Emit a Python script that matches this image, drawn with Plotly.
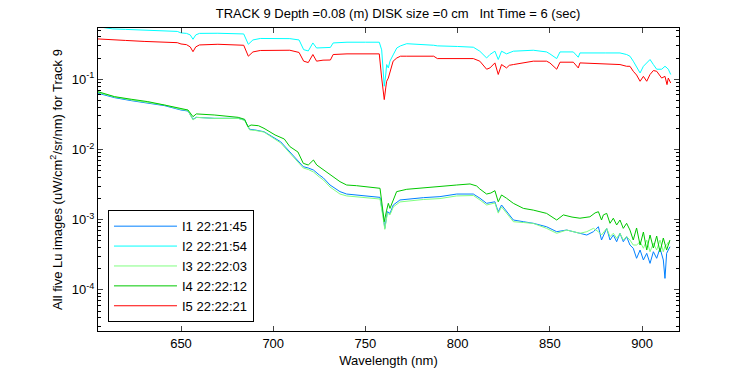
import plotly.graph_objects as go

# ---------------- data ----------------
wl_top = [605, 610, 613, 620, 630, 640, 648, 650, 653, 655, 656.5, 658, 660, 670, 684, 686.5, 689, 693,
          700, 705, 709, 714, 716.5, 719, 721.5, 723.5, 727, 731, 732.5, 740, 750, 757.5, 758.8, 759.6,
          760.2, 761, 761.5, 762.4, 763.3, 765, 767, 769, 772.4, 787, 789, 800, 808.5, 812, 815.7, 817.5,
          820.2, 822, 823.8, 826.5, 828, 830.2, 841, 848.2, 850, 853.7, 855.5, 862.7, 865.4, 866.3, 880,
          888, 891.6, 893.4, 895.2, 897, 898.9, 900.7, 902.5, 904.3, 906.1, 907.9, 910.6, 912.4, 913.5,
          914.2, 915.5]

i2_vals = [0.56, 0.538, 0.521, 0.513, 0.505, 0.488, 0.480, 0.457, 0.450, 0.428, 0.371, 0.428, 0.450, 0.452,
           0.442, 0.315, 0.363, 0.381, 0.381, 0.381, 0.379, 0.363, 0.264, 0.253, 0.329, 0.279, 0.279, 0.284,
           0.329, 0.337, 0.337, 0.337, 0.262, 0.136, 0.0796, 0.115, 0.162, 0.145, 0.181, 0.222, 0.279, 0.299,
           0.321, 0.305, 0.299, 0.293, 0.286, 0.251, 0.201, 0.225, 0.251, 0.191, 0.251, 0.230, 0.237, 0.251,
           0.259, 0.245, 0.230, 0.197, 0.245, 0.245, 0.206, 0.237, 0.237, 0.237, 0.225, 0.213, 0.181, 0.153,
           0.123, 0.153, 0.171, 0.191, 0.162, 0.139, 0.139, 0.153, 0.145, 0.139, 0.117]

i5_vals = [0.375, 0.371, 0.369, 0.357, 0.346, 0.334, 0.332, 0.318, 0.311, 0.289, 0.247, 0.289, 0.308, 0.315,
           0.305, 0.213, 0.245, 0.257, 0.257, 0.257, 0.259, 0.241, 0.181, 0.173, 0.225, 0.181, 0.187, 0.188,
           0.225, 0.230, 0.230, 0.230, 0.104, 0.0705, 0.0513, 0.0752, 0.0936, 0.104, 0.123, 0.181, 0.201,
           0.213, 0.213, 0.213, 0.197, 0.197, 0.197, 0.181, 0.139, 0.145, 0.171, 0.117, 0.162, 0.145, 0.158,
           0.162, 0.181, 0.181, 0.171, 0.139, 0.175, 0.175, 0.145, 0.171, 0.165, 0.162, 0.153, 0.153, 0.130,
           0.115, 0.0936, 0.110, 0.0936, 0.117, 0.133, 0.130, 0.104, 0.110, 0.0839, 0.104, 0.0885]

wl_low = [605, 614, 623, 632, 641, 650, 653.8, 656.5, 658.3, 668, 681, 684.5, 687.2, 690, 695, 704, 709,
          713, 716.3, 719, 721.8, 725, 727.2, 730.8, 736.2, 739.8, 745.2, 757.9, 759.7, 760.5, 761.9,
          763.3, 765.1, 768.7, 781.4, 790.4, 799.5, 808.5, 812.1, 815.7, 820.2, 822, 823.8, 826.5, 830.2,
          835.6, 841, 848.2, 853.7, 859.1, 866.3, 870, 873.6, 876.3, 878, 880.8, 882.6, 884.4, 886.2, 888,
          889.8, 891.6, 893.4, 895.2, 897, 898.9, 900.7, 902.5, 904.3, 906.1, 907.9, 909.7, 911.5, 912.4,
          913.3, 914.2, 915.1]

i1_vals = [0.0632, 0.0547, 0.0496, 0.0455, 0.0421, 0.0365, 0.0353, 0.0269, 0.0287, 0.0278, 0.0278, 0.0263,
           0.0194, 0.0190, 0.0179, 0.0129, 0.00931, 0.00708, 0.00569, 0.00545, 0.00510, 0.00433, 0.00393,
           0.00312, 0.00251, 0.00232, 0.00225, 0.00208, 0.00110, 0.000753, 0.00130, 0.00123, 0.00162,
           0.00191, 0.00206, 0.00213, 0.00232, 0.00232, 0.00202, 0.00171, 0.00180, 0.00130, 0.00162,
           0.00130, 0.000990, 0.000937, 0.000889, 0.000794, 0.000675, 0.000713, 0.000640, 0.000605,
           0.000675, 0.000794, 0.000514, 0.000753, 0.000514, 0.000605, 0.000486, 0.000640, 0.000486,
           0.000573, 0.000436, 0.000392, 0.000282, 0.000370, 0.000267, 0.000332, 0.000239, 0.000350,
           0.000282, 0.000392, 0.000267, 0.000146, 0.000332, 0.000370, 0.000412]

i3_vals = [0.0649, 0.0560, 0.0507, 0.0468, 0.0430, 0.0372, 0.0360, 0.0263, 0.0286, 0.0277, 0.0277, 0.0259,
           0.0190, 0.0187, 0.0177, 0.0124, 0.00891, 0.00685, 0.00545, 0.00519, 0.00478, 0.00406, 0.00368,
           0.00292, 0.00232, 0.00218, 0.00210, 0.00197, 0.00102, 0.000729, 0.00124, 0.00117, 0.00152,
           0.00179, 0.00194, 0.00200, 0.00218, 0.00221, 0.00191, 0.00162, 0.00173, 0.00124, 0.00152,
           0.00124, 0.000937, 0.000912, 0.000885, 0.000753, 0.000640, 0.000713, 0.000640, 0.000675,
           0.000753, 0.000675, 0.000605, 0.000753, 0.000573, 0.000640, 0.000543, 0.000640, 0.000514,
           0.000573, 0.000514, 0.000436, 0.000436, 0.000486, 0.000392, 0.000514, 0.000350, 0.000461,
           0.000370, 0.000514, 0.000350, 0.000420, 0.000436, 0.000480, 0.000461]

wl_i4 = [605, 614, 623, 632, 641, 650, 653.8, 656.5, 658.3, 668, 674, 681, 684.5, 686.3, 688, 692, 695, 701,
         706, 709, 713.4, 716.3, 719, 721.8, 723.6, 727.2, 732.6, 736.2, 739.8, 745.2, 757.9, 759.3, 760.2,
         761.5, 762.4, 763.3, 765.1, 766.9, 772.4, 781.4, 790.4, 799.5, 806.7, 810.3, 812, 815.7, 818,
         820.2, 822, 823.8, 826.5, 830.2, 835.6, 841, 848.2, 853.7, 857.3, 862, 866.3, 871.7, 874.5, 876.3,
         878, 879, 880.8, 882.6, 884.4, 886.2, 888, 889.8, 891.6, 893.4, 895.2, 897, 898.9, 900.7, 902.5,
         904.3, 906.1, 907.9, 909.7, 911.5, 913.3, 915.1]

i4_vals = [0.0665, 0.0565, 0.0519, 0.0480, 0.0430, 0.0378, 0.0365, 0.0293, 0.0321, 0.0310, 0.0300, 0.0287,
           0.0269, 0.0211, 0.0223, 0.0218, 0.0200, 0.0161, 0.0141, 0.0110, 0.00920, 0.00635, 0.00601,
           0.00708, 0.00601, 0.00510, 0.00410, 0.00348, 0.00312, 0.00305, 0.00280, 0.00153, 0.000937,
           0.00137, 0.00171, 0.00145, 0.00191, 0.00251, 0.00271, 0.00286, 0.00302, 0.00312, 0.00323,
           0.00302, 0.00274, 0.00232, 0.00240, 0.00259, 0.00180, 0.00225, 0.00202, 0.00171, 0.00145,
           0.00137, 0.00123, 0.000990, 0.00117, 0.00109, 0.00105, 0.00110, 0.00125, 0.00130, 0.000990,
           0.00117, 0.00123, 0.000889, 0.00105, 0.000841, 0.000990, 0.000753, 0.000889, 0.000713, 0.000514,
           0.000762, 0.000436, 0.000668, 0.000370, 0.000605, 0.000395, 0.000586, 0.000347, 0.000548,
           0.000370, 0.000514]

series_names = ["I1 22:21:45", "I2 22:21:54", "I3 22:22:03", "I4 22:22:12", "I5 22:22:21"]
series_colors = ["#0080FF", "#00FFFF", "#80FF80", "#00C800", "#FF0000"]

y_tick_vals = [1e-4, 1e-3, 1e-2, 1e-1]
y_tick_text = ["10<sup>-4</sup>", "10<sup>-3</sup>", "10<sup>-2</sup>", "10<sup>-1</sup>"]
x_tick_vals = [650, 700, 750, 800, 850, 900]

# ---------------- figure ----------------
FONT = "Liberation Sans, Arial, sans-serif"
fig = go.Figure()
series = [(wl_low, i1_vals), (wl_top, i2_vals), (wl_low, i3_vals), (wl_i4, i4_vals), (wl_top, i5_vals)]
for (xs, ys), name, col in zip(series, series_names, series_colors):
    fig.add_trace(go.Scatter(x=xs, y=ys, mode="lines", name=name,
                             line=dict(color=col, width=1)))

minor_vals = [m * 10.0 ** e for e in range(-5, 0) for m in range(2, 10)]

fig.update_layout(
    width=750, height=375,
    margin=dict(l=98, r=71, t=28, b=44, autoexpand=False),
    paper_bgcolor="white", plot_bgcolor="white",
    font=dict(family=FONT, size=13, color="black"),
    showlegend=True,
    title=dict(text="TRACK 9 Depth =0.08 (m) DISK size =0 cm\u00a0\u00a0\u00a0Int Time = 6 (sec)",
               x=398 / 750, xanchor="center", xref="container",
               y=1 - 13 / 375, yanchor="middle", yref="container",
               font=dict(family=FONT, size=13, color="black")),
    legend=dict(x=0.0172, y=0.029, xanchor="left", yanchor="bottom",
                bgcolor="white", bordercolor="black", borderwidth=1,
                font=dict(family=FONT, size=13, color="black"),
                tracegroupgap=0, itemwidth=63),
    xaxis=dict(range=[605, 920], tickvals=x_tick_vals, ticks="inside", ticklen=5,
               showline=True, linecolor="black", linewidth=1, mirror="ticks",
               showgrid=False, zeroline=False,
               tickfont=dict(family=FONT, size=13, color="black"),
               title=dict(text="Wavelength (nm)", standoff=6,
                          font=dict(family=FONT, size=13, color="black"))),
    yaxis=dict(type="log", range=[-4.585, -0.27], tickvals=y_tick_vals, ticktext=y_tick_text,
               ticks="inside", ticklen=5,
               showline=True, linecolor="black", linewidth=1, mirror="ticks",
               showgrid=False, zeroline=False,
               minor=dict(tickvals=minor_vals, ticks="inside", ticklen=3, tickcolor="black"),
               tickfont=dict(family=FONT, size=13, color="black"),
               title=dict(text="All five Lu images (uW/cm<sup>2</sup>/sr/nm) for Track 9", standoff=6,
                          font=dict(family=FONT, size=13, color="black"))),
)

fig.write_html("out.html", config={"displayModeBar": False},
               post_script="document.body.style.margin='0';document.body.style.padding='0';")
